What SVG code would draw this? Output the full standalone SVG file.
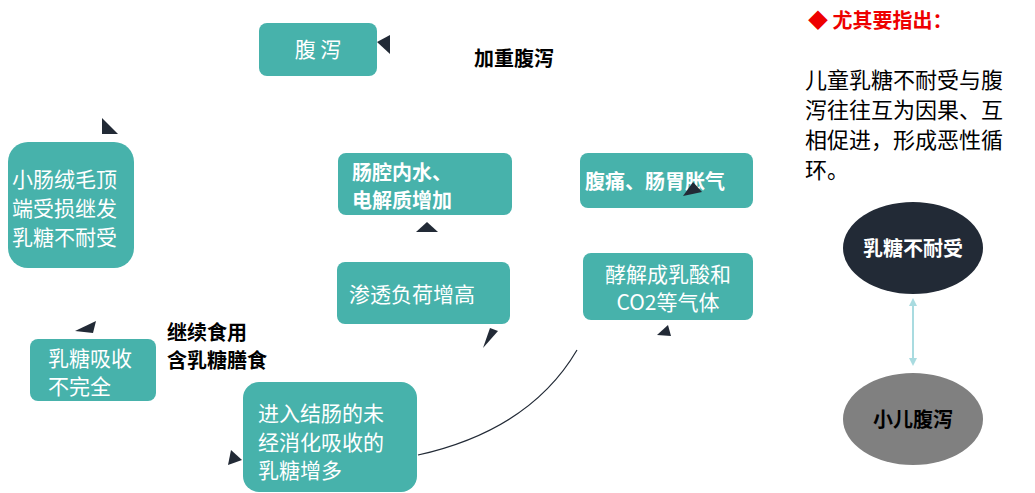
<svg xmlns="http://www.w3.org/2000/svg" width="1035" height="493" viewBox="0 0 1035 493">
<style>
.b{fill:#47b2ab}
.t{font-family:"Noto Sans CJK SC","Liberation Sans",sans-serif;font-size:21px;fill:#fff}
.tb{font-family:"Noto Sans CJK SC","Liberation Sans",sans-serif;font-size:20px;font-weight:bold;fill:#fff}
.k{font-family:"Noto Sans CJK SC","Liberation Sans",sans-serif;font-size:20px;font-weight:bold;fill:#000}
.p{font-family:"Noto Sans CJK SC","Liberation Sans",sans-serif;font-size:22px;fill:#000}
.a{fill:#222a36}
</style>
<defs>
<marker id="m" viewBox="0 0 10 10" refX="5" refY="5" markerWidth="4" markerHeight="4" orient="auto-start-reverse"><path d="M0,0L10,5L0,10z" fill="#a9dbe0"/></marker>
</defs>
<rect width="1035" height="493" fill="#fff"/>
<g id="n1"><rect class="b" x="259" y="23" width="118" height="53" rx="8"/><text class="t" x="318" y="57" text-anchor="middle">腹 泻</text></g>
<g id="n2"><rect class="b" x="8" y="142" width="126" height="126" rx="20"/><text class="t" x="12" y="187">小肠绒毛顶</text><text class="t" x="12" y="216">端受损继发</text><text class="t" x="12" y="245">乳糖不耐受</text></g>
<g id="n3"><rect class="b" x="30" y="339" width="126" height="62" rx="8"/><text class="t" x="48" y="366">乳糖吸收</text><text class="t" x="48" y="394">不完全</text></g>
<g id="n4"><rect class="b" x="243" y="382" width="174" height="110" rx="16"/><text class="t" x="258" y="421">进入结肠的未</text><text class="t" x="258" y="450">经消化吸收的</text><text class="t" x="258" y="478">乳糖增多</text></g>
<g id="n5"><rect class="b" x="337" y="262" width="173" height="62" rx="8"/><text class="t" x="349" y="302">渗透负荷增高</text></g>
<g id="n6"><rect class="b" x="338" y="153" width="174" height="62" rx="8"/><text class="tb" x="352" y="180">肠腔内水、</text><text class="tb" x="352" y="208">电解质增加</text></g>
<g id="n7"><rect class="b" x="580" y="153" width="173" height="55" rx="8"/><text class="tb" x="585" y="189">腹痛、肠胃胀气</text></g>
<g id="n8"><rect class="b" x="583" y="253" width="170" height="67" rx="8"/><text class="t" x="668" y="282" text-anchor="middle">酵解成乳酸和</text><text class="t" x="668" y="310" text-anchor="middle">CO2等气体</text></g>
<g id="labels">
<text class="k" x="474" y="66">加重腹泻</text>
<text class="k" x="167" y="340">继续食用</text>
<text class="k" x="167" y="368">含乳糖膳食</text>
</g>
<g id="connectors">
<path d="M418,455 Q530,430 577,350" fill="none" stroke="#222a36" stroke-width="1.2"/>
<path class="a" d="M102,118L118,134L102,134z"/>
<path class="a" d="M377,42L390,35L390,54z"/>
<path class="a" d="M75,331L96,321L93,333z"/>
<path class="a" d="M228,465L242,460L231,450z"/>
<path class="a" d="M483,348L490,328L498,331z"/>
<path class="a" d="M416,232L427,222L438,232z"/>
<path class="a" d="M683,196L693,182L702,192z"/>
<path class="a" d="M657,335L668,325L671,336z"/>
<line x1="913" y1="302" x2="913" y2="362" stroke="#a9dbe0" stroke-width="2" marker-start="url(#m)" marker-end="url(#m)"/>
</g>
<g id="e1"><ellipse cx="913" cy="248" rx="70" ry="46" fill="#222a36"/><text class="tb" x="913" y="256" text-anchor="middle" font-size="21">乳糖不耐受</text></g>
<g id="e2"><ellipse cx="913" cy="419" rx="70" ry="46" fill="#808080"/><text class="k" x="913" y="427" text-anchor="middle" font-size="21">小儿腹泻</text></g>
<g id="note">
<text x="808" y="28" font-family="Noto Sans CJK SC,sans-serif" font-size="20" font-weight="bold" fill="#e00">◆  尤其要指出：</text>
<text class="p" x="805" y="88">儿童乳糖不耐受与腹</text>
<text class="p" x="805" y="118">泻往往互为因果、互</text>
<text class="p" x="805" y="148">相促进，形成恶性循</text>
<text class="p" x="805" y="178">环。</text>
</g>
</svg>
